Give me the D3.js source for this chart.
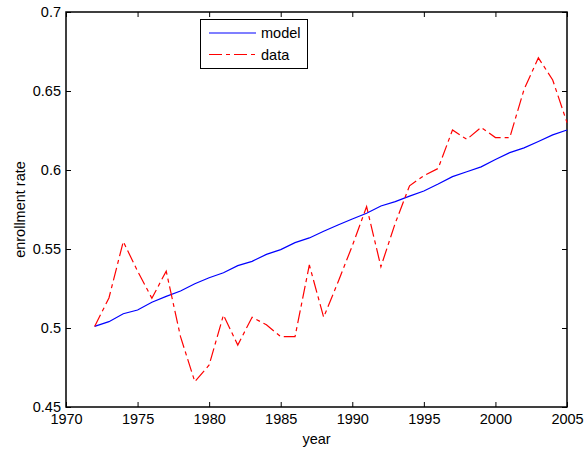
<!DOCTYPE html>
<html>
<head>
<meta charset="utf-8">
<script src="https://cdn.jsdelivr.net/npm/d3@7/dist/d3.min.js"></script>
<style>
  body { margin: 0; background: #fff; }
  svg { display: block; font-family: "Liberation Sans", Arial, sans-serif; }
</style>
</head>
<body>
<div id="chart"></div>
<script>
// years 1972..2005
const years = d3.range(1972, 2006);

const model = [
  0.501, 0.504, 0.509, 0.5114, 0.5163, 0.520, 0.5234, 0.528, 0.5318, 0.535,
  0.5395, 0.5422, 0.5466, 0.5496, 0.554, 0.557, 0.5612, 0.5652, 0.569, 0.5726,
  0.5772, 0.580, 0.5835, 0.5867, 0.5911, 0.5958, 0.5989, 0.602, 0.6067, 0.611,
  0.614, 0.618, 0.6222, 0.6253
];

const data = [
  0.501, 0.519, 0.5547, 0.536, 0.5188, 0.536, 0.4945, 0.466, 0.4766, 0.5082,
  0.4892, 0.5068, 0.502, 0.4945, 0.4945, 0.5399, 0.5068, 0.529, 0.552, 0.5768,
  0.5388, 0.5663, 0.590, 0.5964, 0.601, 0.6253, 0.6194, 0.627, 0.6205, 0.6205,
  0.651, 0.671, 0.657, 0.630
];

const xTicks = [1970, 1975, 1980, 1985, 1990, 1995, 2000, 2005];
const yTicks = [0.45, 0.5, 0.55, 0.6, 0.65, 0.7];

const width = 584, height = 454;
const plotLeft = 66, plotRight = 567, plotTop = 12, plotBottom = 407;
const fontSize = "14.5px";

const svg = d3.select("#chart").append("svg")
  .attr("width", width)
  .attr("height", height);

const x = d3.scaleLinear().domain([1970, 2005]).range([plotLeft, plotRight]);
const y = d3.scaleLinear().domain([0.45, 0.7]).range([plotBottom, plotTop]);

// axes: ticks point inward, like a matlab box
const xAxis = svg.append("g")
  .attr("transform", `translate(0,${plotBottom})`)
  .call(d3.axisBottom(x).tickValues(xTicks).tickFormat(d3.format("d"))
    .tickSizeInner(-5).tickSizeOuter(0).tickPadding(7));

const xAxisTop = svg.append("g")
  .attr("transform", `translate(0,${plotTop})`)
  .call(d3.axisTop(x).tickValues(xTicks).tickFormat("")
    .tickSizeInner(-5).tickSizeOuter(0));

const yAxis = svg.append("g")
  .attr("transform", `translate(${plotLeft},0)`)
  .call(d3.axisLeft(y).tickValues(yTicks).tickFormat(d => String(+d.toFixed(2)))
    .tickSizeInner(-5).tickSizeOuter(0).tickPadding(5));

const yAxisRight = svg.append("g")
  .attr("transform", `translate(${plotRight},0)`)
  .call(d3.axisRight(y).tickValues(yTicks).tickFormat("")
    .tickSizeInner(-5).tickSizeOuter(0));

[xAxis, xAxisTop, yAxis, yAxisRight].forEach(g => {
  g.select(".domain").remove();
  g.selectAll(".tick line").attr("stroke", "#000").attr("stroke-width", 1);
  g.selectAll("text")
    .attr("fill", "#000")
    .style("font-size", fontSize)
    .style("font-family", "Liberation Sans, Arial, sans-serif");
});

// plot box
svg.append("rect")
  .attr("x", plotLeft)
  .attr("y", plotTop)
  .attr("width", plotRight - plotLeft)
  .attr("height", plotBottom - plotTop)
  .attr("fill", "none")
  .attr("stroke", "#000")
  .attr("stroke-width", 1.5);

const line = d3.line()
  .x((d, i) => x(years[i]))
  .y(d => y(d));

svg.append("path")
  .datum(model)
  .attr("d", line)
  .attr("fill", "none")
  .attr("stroke", "#0000ff")
  .attr("stroke-width", 1.2);

svg.append("path")
  .datum(data)
  .attr("d", line)
  .attr("fill", "none")
  .attr("stroke", "#ff0000")
  .attr("stroke-width", 1.2)
  .attr("stroke-dasharray", "13,4,4,4");

// axis labels
svg.append("text")
  .attr("x", (plotLeft + plotRight) / 2)
  .attr("y", 444)
  .attr("text-anchor", "middle")
  .style("font-size", fontSize)
  .text("year");

svg.append("text")
  .attr("transform", `translate(25,${(plotTop + plotBottom) / 2}) rotate(-90)`)
  .attr("text-anchor", "middle")
  .style("font-size", fontSize)
  .text("enrollment rate");

// legend
const legend = svg.append("g");
legend.append("rect")
  .attr("x", 200.5)
  .attr("y", 19.5)
  .attr("width", 107)
  .attr("height", 49)
  .attr("fill", "#fff")
  .attr("stroke", "#000")
  .attr("stroke-width", 1);

const legendItems = [
  { label: "model", color: "#0000ff", dash: null, ly: 33 },
  { label: "data", color: "#ff0000", dash: "13,4,4,4", ly: 54.5 }
];

legendItems.forEach(it => {
  legend.append("line")
    .attr("x1", 209).attr("x2", 256)
    .attr("y1", it.ly).attr("y2", it.ly)
    .attr("stroke", it.color)
    .attr("stroke-width", 1.2)
    .attr("stroke-dasharray", it.dash);
  legend.append("text")
    .attr("x", 261)
    .attr("y", it.ly + 5)
    .style("font-size", fontSize)
    .text(it.label);
});
</script>
</body>
</html>
